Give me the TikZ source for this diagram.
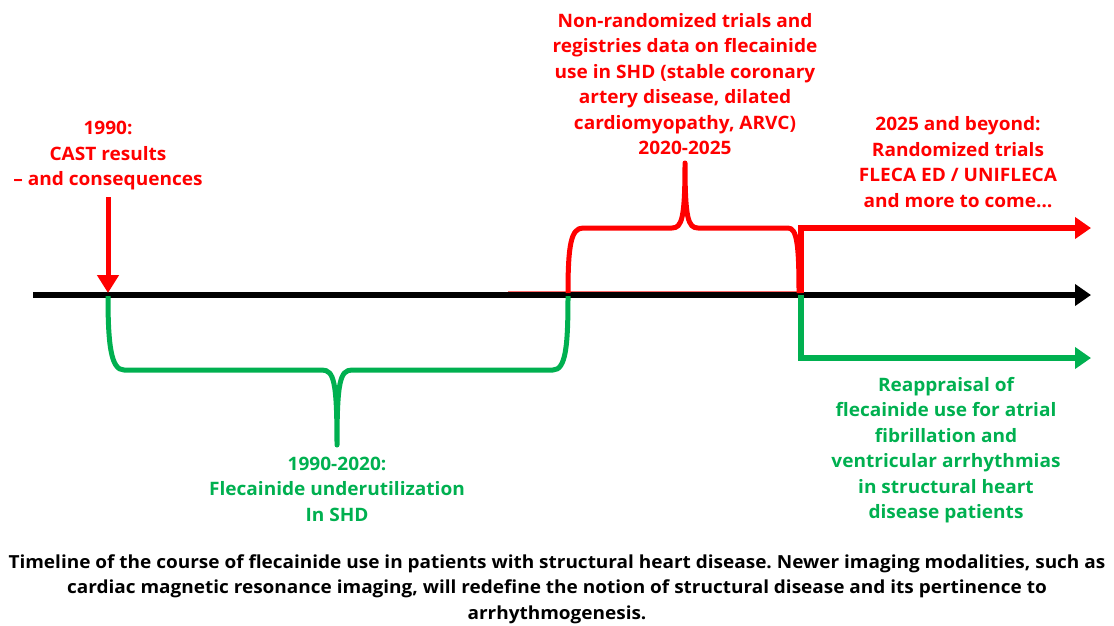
\documentclass[tikz,border=0pt]{standalone}
\usepackage{fontspec}
\setmainfont{Open Sans}
\newfontfamily\lblfont[FakeStretch=1.03]{Open Sans}
\newfontfamily\captfont[FakeStretch=1.055]{Open Sans}
\usetikzlibrary{arrows.meta}
\definecolor{myred}{HTML}{FF0000}
\definecolor{mygreen}{HTML}{00B050}
\frenchspacing
\begin{document}
\begin{tikzpicture}[x=1pt,y=-1pt,
  lbl/.style={align=center,font=\lblfont\fontsize{18.5}{25.5}\selectfont\bfseries,inner sep=0pt},
  capt/.style={align=center,font=\captfont\fontsize{18}{25.5}\selectfont\bfseries,inner sep=0pt},
  tip/.style={-{Triangle[length=16pt,width=21pt]}},
  thick5/.style={line width=5pt},
]
\useasboundingbox (0,0) rectangle (1114,625);
% coordinates
\coordinate (tlA) at (33,295);
\coordinate (tlB) at (1091,295);
\coordinate (ra) at (108,197);
\coordinate (rb) at (108,293);
\coordinate (rsplit) at (801,293);
\coordinate (rend) at (1091,228);
\coordinate (gsplit) at (801,295);
\coordinate (gend) at (1091,358);
% faint red line
\draw[myred!60,line width=1.2pt] (508,292) -- (800,292);
% timeline
\draw[line width=6pt,tip] (tlA) -- (tlB);
% red arrow down
\draw[myred,line width=5pt,-{Triangle[length=18pt,width=21pt]}] (ra) -- (rb);
% green brace
\draw[mygreen,thick5,line join=round] (108,296) .. controls (108,345) and (111,370) .. (124,370) -- (322,370)
  .. controls (334,370) and (337,382) .. (337,445)
  .. controls (337,382) and (340,370) .. (352,370) -- (553,370)
  .. controls (566,370) and (568,345) .. (568,296);
% red brace
\draw[myred,thick5,line join=round] (568,293) .. controls (568,245) and (571,228) .. (583,228) -- (672,228)
  .. controls (682,228) and (685,218) .. (685,163)
  .. controls (685,218) and (688,228) .. (698,228) -- (788,228)
  .. controls (797,228) and (799,245) .. (799,293);
% red forward arrow
\draw[myred,line width=6pt,tip] (rsplit) |- (rend);
% green forward arrow
\draw[mygreen,line width=6pt,tip] (gsplit) |- (gend);
% labels
\node[lbl,text=myred] (l1990) at (108,156) {1990:\\CAST results\\– and consequences};
\node[lbl,text=myred] (lnon) at (685,84) {Non-randomized trials and\\registries data on flecainide\\use in SHD (stable coronary\\artery disease, dilated\\cardiomyopathy, ARVC)\\2020-2025};
\node[lbl,text=myred] (l2025) at (958,162) {2025 and beyond:\\Randomized trials\\FLECA ED / UNIFLECA\\and more to come…};
\node[lbl,text=mygreen] (lunder) at (337,489) {1990-2020:\\Flecainide underutilization\\In SHD};
\node[lbl,text=mygreen] (lreap) at (946,450) {Reappraisal of\\flecainide use for atrial\\fibrillation and\\ventricular arrhythmias\\in structural heart\\disease patients};
\node[capt] (caption) at (557,589) {Timeline of the course of flecainide use in patients with structural heart disease. Newer imaging modalities, such as\\cardiac magnetic resonance imaging, will redefine the notion of structural disease and its pertinence to\\arrhythmogenesis.};
\end{tikzpicture}
\end{document}
